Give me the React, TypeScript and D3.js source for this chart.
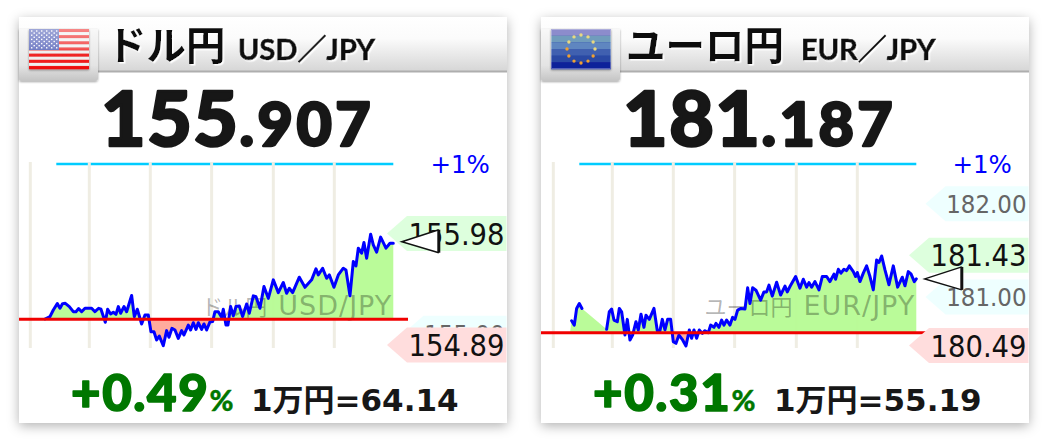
import React from "react";
import * as d3 from "d3";

// time in steps from the first gridline, change from the reference rate in basis points
const usdSteps = [44,59,69,81,89,97,105,117,129,137,145,154,164,184,194,205,212,225,232,241,249,257,264,271,281,289,304,312,321,334,344,354,362,371,379,387,399,409,416,425,434,444,454,461,474,481,489,497,504,514,521,529,539,547,554,564,574,579,587,593,601,609,617,627,637,649,657,669,677,689,701,714,729,744,759,769,777,787,807,824,844,857,864,877,889,897,911,924,939,947,959,969,977,984,994,1001,1009,1021,1029,1039,1051,1067,1079,1089];
const usdChange = [0.2,1.7,6.0,10.1,7.1,10.1,10.3,8.2,4.9,4.9,6.9,4.9,7.1,7.1,4.9,7.1,6.5,-1.9,6.5,3.4,4.5,3.2,8.2,3.9,8.2,4.9,15.3,1.7,6.5,-3.0,2.8,2.8,-8.0,-8.0,-13.3,-10.8,-17.0,-7.3,-11.6,-5.8,-6.9,-12.3,-7.3,-10.1,-3.7,-6.9,-2.2,-6.5,-2.2,-6.5,-3.0,-6.9,-1.7,-1.5,4.9,4.9,1.3,6.5,-3.7,-3.7,8.2,2.2,8.2,8.6,1.7,9.9,3.9,15.1,14.6,7.1,21.1,13.5,25.4,17.2,23.7,16.8,20.0,17.2,27.1,20.6,25.4,32.5,28.6,32.9,26.4,28.6,20.6,28.6,32.9,31.8,15.1,37.2,34.4,45.8,42.6,49.5,39.3,54.8,47.9,43.2,52.9,45.8,49.0,49.0];

const eurSteps = [50,55,63,70,78,86,120,160,168,175,182,192,198,205,215,222,230,238,248,255,263,272,278,288,302,312,320,327,335,343,352,360,368,377,388,398,408,415,422,430,438,447,455,465,472,482,488,497,505,512,520,530,538,545,553,563,575,583,590,598,608,622,632,640,647,657,670,682,695,702,710,727,740,750,760,767,775,785,797,807,820,830,842,847,855,863,872,880,888,900,907,912,920,930,940,950,960,970,977,985,995,1007,1020,1033,1047,1055,1065,1073,1083,1089];
const eurChange = [null,7.1,4.5,14.4,17.3,14.4,null,2.0,12.4,14.0,7.5,6.5,14.4,12.4,-1.4,7.9,-4.3,-1.4,6.5,1.6,11.0,3.2,10.4,7.9,14.4,1.2,1.2,7.9,1.6,7.9,7.9,-5.3,-6.3,-1.4,-4.3,-7.9,1.6,-3.3,1.6,-3.3,1.6,-0.4,1.2,0,4.5,3.2,5.5,3.2,7.5,4.5,7.5,4.5,9.1,7.9,13.4,14.4,14.0,26.6,17.3,26.6,25.2,19.3,24.2,24.2,28.2,21.7,29.9,22.3,27.6,24.2,27.4,33.3,26.4,31.7,27.0,29.7,27.0,30.3,25.4,33.3,33.3,30.3,34.7,31.7,37.6,35.3,37.6,36.8,39.6,36.2,33.3,35.7,30.3,35.3,39.6,33.3,25.4,43.1,41.6,45.5,37.2,28.4,39.6,27.0,32.9,27.8,36.2,34.9,30.3,31.9];

const gridSteps = [0,177,360,544,729,912];

type Lab = { text: string; kind: "high" | "low" | "round" };
type Card = {
  left: number; gridX: number; flag: "us" | "eu";
  title: string; pair: string; markJa: string; markEn: string;
  bigPrice: string; smallPrice: string; pct: string; exchange: string;
  baseRate: number; bpRange: number; baseY: number;
  steps: number[]; change: (number | null)[];
  labels: Lab[];
  titleX: number; pairX: number; bigX: number; pctX: number; exX: number;
  now: number;
};

const cards: Card[] = [
  { left: 19, gridX: 30.3, flag: "us", title: "ドル円", pair: "USD／JPY", markJa: "ドル円", markEn: "USD/JPY",
    bigPrice: "155", smallPrice: ".907", pct: "+0.49", exchange: "1万円=64.14",
    baseRate: 155.147, bpRange: 100, baseY: 319.3, steps: usdSteps, change: usdChange,
    labels: [{ text: "155.00", kind: "round" }, { text: "155.98", kind: "high" }, { text: "154.89", kind: "low" }],
    titleX: 107, pairX: 238, bigX: 101, pctX: 71, exX: 251, now: 49 },
  { left: 541, gridX: 553.3, flag: "eu", title: "ユーロ円", pair: "EUR／JPY", markJa: "ユーロ円", markEn: "EUR/JPY",
    bigPrice: "181", smallPrice: ".187", pct: "+0.31", exchange: "1万円=55.19",
    baseRate: 180.627, bpRange: 100, baseY: 332.7, steps: eurSteps, change: eurChange,
    labels: [{ text: "182.00", kind: "round" }, { text: "181.00", kind: "round" }, { text: "181.43", kind: "high" }, { text: "180.49", kind: "low" }],
    titleX: 626, pairX: 801, bigX: 623, pctX: 593, exX: 774, now: 31 },
];

const labelFill = { high: "#ddffdd", low: "#ffdddd", round: "#eeffff" };
const labelText = { high: "#111111", low: "#111111", round: "#666666" };
const labelShift = { high: -2.5, low: 0, round: -0.8 };
const labelSize = { high: 30.5, low: 30.5, round: 25.5 };
const numFont = "Lato, 'Noto Sans', sans-serif";
const labFont = "'DejaVu Sans Condensed', 'DejaVu Sans', sans-serif";
const wideFont = "'DejaVu Sans', 'Noto Sans CJK JP', sans-serif";

function UsFlag({ x, y }: { x: number; y: number }) {
  const stripes = d3.range(13);
  const rows = d3.range(9);
  return (
    <g filter="url(#flagShadow)">
      {stripes.map(i => (
        <rect key={i} x={x} y={y + (i * 40) / 13} width={60} height={40 / 13 + 0.2} fill={i % 2 ? "#eeeeee" : "#ee0f0f"} />
      ))}
      <rect x={x} y={y} width={30} height={21} fill="#3f4fb0" />
      {rows.map(r => d3.range(r % 2 ? 5 : 6).map(c => (
        <rect key={r + "-" + c} x={x + (r % 2 ? 4.5 : 2) + c * 5} y={y + 1.3 + r * 2.1} width={1.4} height={1.4} fill="#ffffff" />
      )))}
      <rect x={x} y={y} width={60} height={40} fill="url(#gloss)" />
    </g>
  );
}

function EuFlag({ x, y }: { x: number; y: number }) {
  const stars = d3.range(12);
  const bands = d3.range(6);
  return (
    <g filter="url(#flagShadow)">
      <rect x={x} y={y} width={60} height={40} fill="#10209a" />
      {bands.map(i => (
        <rect key={i} x={x} y={y + (i * 20) / 3} width={60} height={20 / 3 + 0.2} fill={["#8c8ccc", "#6f9cbc", "#5f86c0", "#3f60b0", "#2a48a4", "#10209a"][i]} />
      ))}
      {stars.map(i => {
        const a = (i / 12) * Math.PI * 2;
        const top = Math.cos(a) > 0;
        return <circle key={i} cx={x + 30 + 14 * Math.sin(a)} cy={y + 20 - 14 * Math.cos(a)} r={1.7} fill={top ? "#e8d880" : "#f0a030"} />;
      })}
      <rect x={x + 0.5} y={y + 0.5} width={59} height={39} fill="none" stroke="#ffffff" strokeOpacity={0.3} />
    </g>
  );
}

function CardView({ c, i }: { c: Card; i: number }) {
  const W = 488;
  const top = 17;
  const bottom = 423;
  const xs = d3.scaleLinear().domain([0, 1092]).range([c.gridX, c.gridX + 364]);
  const ys = d3.scaleLinear().domain([0, c.bpRange]).range([c.baseY, 164]);
  const pts = c.steps.map((s, k) => ({ s, v: c.change[k] }));
  const line = d3.line<{ s: number; v: number | null }>()
    .defined(d => d.v !== null).x(d => xs(d.s)).y(d => ys(d.v as number));
  const areaPts = pts.map((d, k) => ({ s: d.s, v: k === 0 ? 0 : d.v })).filter(d => d.v !== null);
  const area = d3.area<{ s: number; v: number | null }>()
    .x(d => xs(d.s)).y0(c.baseY).y1(d => ys(d.v as number));
  const right = c.left + W;
  const lineEnd = c.gridX + 363;
  const rate = (t: string) => ((+t - c.baseRate) / c.baseRate) * 10000;
  const nowY = ys(c.now) - 1.5;
  const triTip = lineEnd + 8.5;
  const triBack = triTip + 37;
  return (
    <g>
      <rect x={c.left} y={top} width={W} height={bottom - top} fill="#fff" filter="url(#cardShadow)" />
      <rect x={c.left} y={top} width={W} height={54} fill="url(#head)" />
      <rect x={c.left} y={70.5} width={W} height={2} fill="#aeaeae" />
      <path d={`M${c.left} ${top + 12}H${c.left + 79}V78q0 3 -3 3H${c.left + 2}q-2 0 -2 -2Z`} fill="url(#tab)" filter="url(#tabShadow)" />
      {c.flag === "us" ? <UsFlag x={c.left + 10} y={29} /> : <EuFlag x={c.left + 10} y={29} />}

      <text x={c.titleX} y={60} fontFamily="'Noto Sans CJK JP'" fontWeight={700} fontSize={39.5} fill="#111" filter="url(#halo)">{c.title}</text>
      <text x={c.pairX} y={60} fontFamily={"Lato, 'Noto Sans CJK JP'"} fontWeight={700} fontSize={29} fill="#111" stroke="#111" strokeWidth={0.6} filter="url(#halo)">{c.pair}</text>

      <text x={c.bigX} y={146} fontFamily={numFont} fontWeight={900} fill="#171717" stroke="#171717" strokeWidth={2.5} strokeLinejoin="round">
        <tspan fontSize={77} letterSpacing={1.5}>{c.bigPrice}</tspan><tspan fontSize={61} letterSpacing={3.5}>{c.smallPrice}</tspan>
      </text>

      <line x1={lineEnd - 337} x2={lineEnd} y1={164} y2={164} stroke="#00ccff" strokeWidth={2.5} />
      <text x={c.left + 411.5} y={173} fontFamily={wideFont} fontSize={24.5} fill="#0000ff">+1%</text>

      <clipPath id={"above" + i}><rect x={c.left} y={150} width={W} height={c.baseY - 150} /></clipPath>
      <clipPath id={"below" + i}><rect x={c.left} y={c.baseY} width={W} height={bottom - c.baseY} /></clipPath>

      {gridSteps.map(g => (
        <line key={g} x1={xs(g)} x2={xs(g)} y1={162} y2={348} stroke="#efede3" strokeWidth={3} />
      ))}
      <path d={area(areaPts) || ""} fill="#b6fb94" fillOpacity={0.95} clipPath={`url(#above${i})`} />
      <path d={area(areaPts) || ""} fill="#ffa898" fillOpacity={0.95} clipPath={`url(#below${i})`} />
      <text x={lineEnd - 1} y={315} textAnchor="end" fontFamily={wideFont} fill="#000" fillOpacity={0.3}>
        <tspan fontSize={22} fontFamily="'Noto Sans CJK JP'">{c.markJa}</tspan>
        <tspan fontSize={27} letterSpacing={1} dx={11}>{c.markEn}</tspan>
      </text>
      <path d={line(pts) || ""} fill="none" stroke="#0000ff" strokeWidth={3} strokeLinejoin="round" strokeLinecap="round" />
      <line x1={c.left} x2={c.left + 389} y1={c.baseY} y2={c.baseY} stroke="#f00000" strokeWidth={3} />

      {c.labels.map(l => {
        const y = ys(rate(l.text)) + labelShift[l.kind];
        const back = l.kind === "round" ? right - 83.5 : right - 100;
        const tip = back - 20;
        const r = right - 0.5;
        const h = 17.5;
        return (
          <g key={l.text}>
            <path d={`M${tip} ${y}L${back} ${y - h}H${r}V${y + h}H${back}Z`} fill={labelFill[l.kind]} />
            <text x={right - 2.5} y={y + labelSize[l.kind] * 0.365} textAnchor="end" fontFamily={labFont} fontSize={labelSize[l.kind]} fill={labelText[l.kind]}>{l.text}</text>
          </g>
        );
      })}

      <path d={`M${triTip} ${nowY}L${triBack} ${nowY - 12}V${nowY + 11}Z`} fill="#fff" />
      <path d={`M${triBack} ${nowY - 12}L${triTip} ${nowY}L${triBack} ${nowY + 11}`} fill="none" stroke="#111" strokeWidth={1.5} />
      <line x1={triBack} x2={triBack} y1={nowY - 12} y2={nowY + 11} stroke="#111" strokeWidth={3} />

      <text x={c.pctX} y={410.5} fontFamily={numFont} fontWeight={900} fill="#007700" stroke="#007700" strokeWidth={1.6} strokeLinejoin="round">
        <tspan fontSize={51} letterSpacing={1.6}>{c.pct}</tspan><tspan fontSize={29} strokeWidth={0.4}>%</tspan>
      </text>
      <text x={c.exX} y={411} fontFamily={"'DejaVu Sans', 'Noto Sans CJK JP'"} fontWeight={700} fontSize={31} fill="#171717">{c.exchange}</text>
    </g>
  );
}

export default function App() {
  return (
    <svg width={1050} height={443} viewBox="0 0 1050 443" style={{ position: "absolute", left: 0, top: 0, display: "block", background: "#fff" }}>
      <defs>
        <linearGradient id="head" x1="0" x2="0" y1="0" y2="1">
          <stop offset="0" stopColor="#ffffff" /><stop offset="0.4" stopColor="#fbfbfb" /><stop offset="1" stopColor="#d6d6d6" />
        </linearGradient>
        <linearGradient id="tab" x1="0" x2="0" y1="0" y2="1">
          <stop offset="0" stopColor="#f8f8f8" /><stop offset="0.7" stopColor="#e4e4e4" /><stop offset="1" stopColor="#c4c4c4" />
        </linearGradient>
        <linearGradient id="gloss" x1="0" x2="0" y1="0" y2="1">
          <stop offset="0" stopColor="#fff" stopOpacity={0.5} /><stop offset="0.5" stopColor="#fff" stopOpacity={0.3} /><stop offset="0.55" stopColor="#fff" stopOpacity={0.12} /><stop offset="1" stopColor="#fff" stopOpacity={0} />
        </linearGradient>
        <filter id="cardShadow" x="-10%" y="-10%" width="120%" height="120%">
          <feDropShadow dx="0" dy="3" stdDeviation="6" floodColor="#000" floodOpacity="0.3" />
        </filter>
        <filter id="tabShadow" x="-10%" y="-10%" width="120%" height="120%">
          <feDropShadow dx="0" dy="1" stdDeviation="1" floodColor="#000" floodOpacity="0.35" />
        </filter>
        <filter id="flagShadow" x="-10%" y="-10%" width="120%" height="125%">
          <feDropShadow dx="0" dy="1" stdDeviation="1" floodColor="#000" floodOpacity="0.4" />
        </filter>
        <filter id="halo" x="-5%" y="-10%" width="110%" height="125%">
          <feDropShadow dx="1.5" dy="1.5" stdDeviation="0.6" floodColor="#fff" floodOpacity="1" />
        </filter>
      </defs>
      {cards.map((c, i) => <CardView key={c.flag} c={c} i={i} />)}
    </svg>
  );
}
